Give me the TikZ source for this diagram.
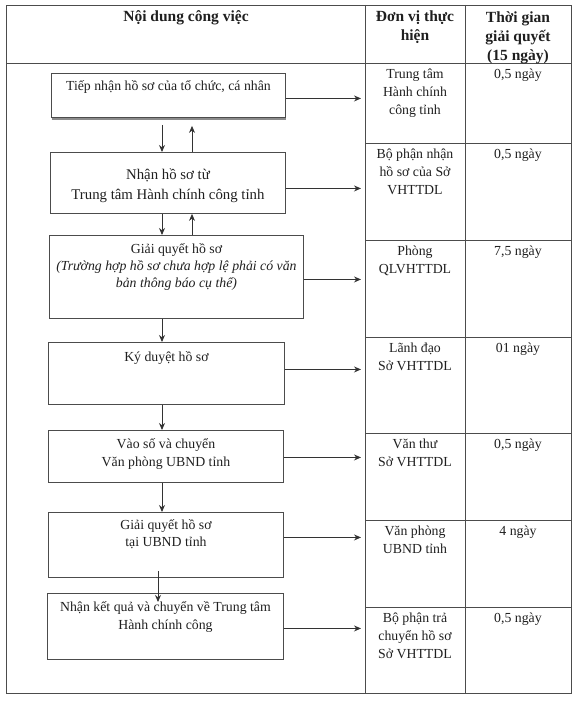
\documentclass[tikz,border=0pt]{standalone}
\usepackage{fontspec}
\setmainfont{Liberation Serif}
\usetikzlibrary{positioning,arrows.meta,calc}
\tikzset{
  grid/.style={draw=black!70, line width=0.9pt},
  box/.style={draw=black!70, line width=0.9pt, anchor=north west, inner sep=0pt},
  txt/.style={align=center, inner sep=0pt, text=black!88,
              font=\fontsize{13.8}{18}\selectfont},
  hdr/.style={align=center, inner sep=0pt, text=black!88,
              font=\fontsize{15.5}{19}\selectfont\bfseries},
  flow/.style={-{Stealth[length=7pt,width=6pt]}, draw=black!80, line width=0.9pt},
}

\begin{document}
\begin{tikzpicture}[x=1pt, y=-1pt]
  \useasboundingbox (0,0) rectangle (575,701);
  % table frame
  \draw[grid] (6,5) rectangle (571,693);
  \draw[grid] (365,5) -- (365,693) (465,5) -- (465,693);
  \draw[grid] (6,63) -- (571,63);
  \foreach \rowy in {143,240,337,433,520,607}
    \draw[grid] (365,\rowy) -- (571,\rowy);
  % header (base = last line)
  \node[hdr, anchor=base] (h1) at (186,22) {Nội dung công việc};
  \node[hdr, anchor=base] (h2) at (415,41) {Đơn vị thực\\hiện};
  \node[hdr, anchor=base] (h3) at (518,60) {Thời gian\\giải quyết\\(15 ngày)};
  % unit and time columns
  \foreach \rowy/\nl/\dv/\tg [count=\i] in {
      63/3/{Trung tâm\\Hành chính\\công tỉnh}/{0,5 ngày},
      143/3/{Bộ phận nhận\\hồ sơ của Sở\\VHTTDL}/{0,5 ngày},
      240/2/{Phòng\\QLVHTTDL}/{7,5 ngày},
      337/2/{Lãnh đạo\\Sở VHTTDL}/{01 ngày},
      433/2/{Văn thư\\Sở VHTTDL}/{0,5 ngày},
      520/2/{Văn phòng\\UBND tỉnh}/{4 ngày},
      607/3/{Bộ phận trả\\chuyển hồ sơ\\Sở VHTTDL}/{0,5 ngày}}{
    \node[txt, anchor=base] (dv\i) at (415,\rowy+15+18*\nl-18) {\dv};
    \node[txt, anchor=base] (tg\i) at (518,\rowy+15) {\tg};
  }
  % process boxes
  \node[box, minimum width=234pt, minimum height=44pt] (tiep) at (51,73) {};
  \node[box, minimum width=235pt, minimum height=61pt] (nhan) at (50,152) {};
  \node[box, minimum width=254pt, minimum height=83pt] (giai) at (49,235) {};
  \node[box, minimum width=236pt, minimum height=62pt] (ky) at (48,342) {};
  \node[box, minimum width=235pt, minimum height=52pt] (vao) at (48,430) {};
  \node[box, minimum width=235pt, minimum height=65pt] (ubnd) at (48,512) {};
  \node[box, minimum width=236pt, minimum height=66pt] (tra) at (47,593) {};
  \draw[black!45, line width=1.6pt] ($(tiep.south west)+(0.5,1.2)$) -- ($(tiep.south east)+(0.5,1.2)$);
  % box texts (base = last line)
  \node[txt, anchor=base] (tiep-t) at ($(tiep.north)+(0,17)$)
    {Tiếp nhận hồ sơ của tổ chức, cá nhân};
  \node[txt, anchor=base, font=\fontsize{14.8}{20}\selectfont] (nhan-t) at ($(nhan.north)+(0,47)$)
    {Nhận hồ sơ từ\\Trung tâm Hành chính công tỉnh};
  \node[txt, anchor=base, font=\fontsize{13.8}{17}\selectfont] (giai-t) at ($(giai.north)+(0,52)$)
    {Giải quyết hồ sơ\\\textit{(Trường hợp hồ sơ chưa hợp lệ phải có văn}\\\textit{bản thông báo cụ thể)}};
  \node[txt, anchor=base] (ky-t) at ($(ky.north)+(0,19)$) {Ký duyệt hồ sơ};
  \node[txt, anchor=base] (vao-t) at ($(vao.north)+(0,36)$)
    {Vào số và chuyển\\Văn phòng UBND tỉnh};
  \node[txt, anchor=base, font=\fontsize{13.8}{17}\selectfont] (ubnd-t) at ($(ubnd.north)+(0,34)$)
    {Giải quyết hồ sơ\\tại UBND tỉnh};
  \node[txt, anchor=base] (tra-t) at ($(tra.north)+(0,36)$)
    {Nhận kết quả và chuyển về Trung tâm\\Hành chính công};
  % arrows
  \coordinate (ax) at (162,0);
  \coordinate (bx) at (192,0);
  \coordinate (dvcol) at (361,0);
  \draw[flow] ($(tiep.south -| ax)+(0,7)$) -- (nhan.north -| ax);
  \draw[flow] (nhan.north -| bx) -- ($(tiep.south -| bx)+(0,8)$);
  \draw[flow] (nhan.south -| ax) -- (giai.north -| ax);
  \draw[flow] (giai.north -| bx) -- (nhan.south -| bx);
  \draw[flow] (giai.south -| ax) -- (ky.north -| ax);
  \draw[flow] (ky.south -| ax) -- (vao.north -| ax);
  \draw[flow] (vao.south -| ax) -- (ubnd.north -| ax);
  \draw[flow] ($(ubnd.south -| ax)+(-4,-7)$) -- ($(tra.north -| ax)+(-4,9)$);
  \draw[flow] ([yshift=-3pt]tiep.east) -- ([yshift=-3pt]tiep.east -| dvcol);
  \draw[flow] ([yshift=-5.5pt]nhan.east) -- ([yshift=-5.5pt]nhan.east -| dvcol);
  \draw[flow] ([yshift=-2.5pt]giai.east) -- ([yshift=-2.5pt]giai.east -| dvcol);
  \draw[flow] ([yshift=4pt]ky.east) -- ([yshift=4pt]ky.east -| dvcol);
  \draw[flow] ([yshift=-1pt]vao.east) -- ([yshift=-1pt]vao.east -| dvcol);
  \draw[flow] ([yshift=7.5pt]ubnd.east) -- ([yshift=7.5pt]ubnd.east -| dvcol);
  \draw[flow] ([yshift=-2pt]tra.east) -- ([yshift=-2pt]tra.east -| dvcol);
\end{tikzpicture}
\end{document}
